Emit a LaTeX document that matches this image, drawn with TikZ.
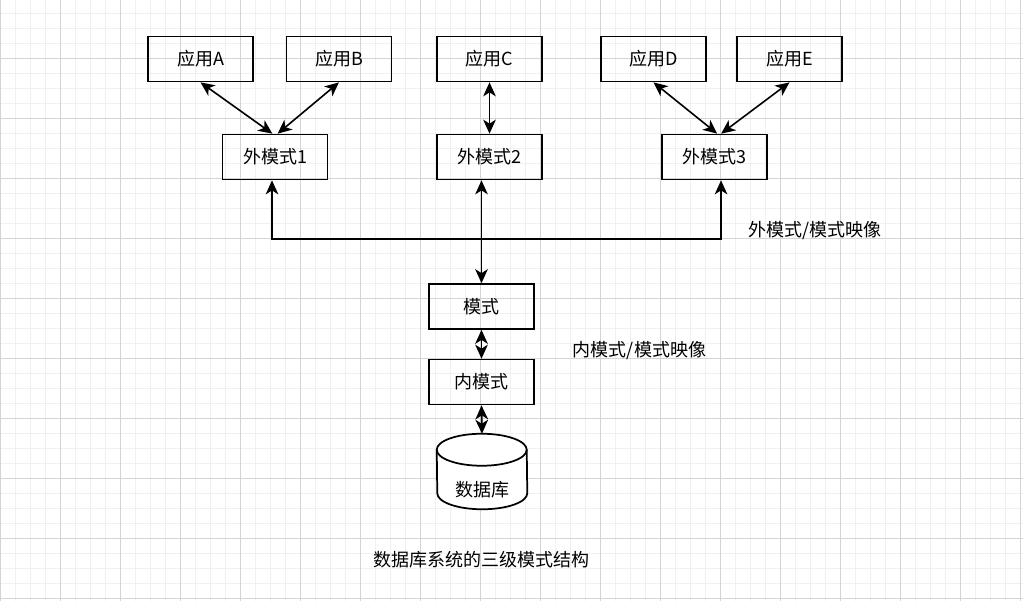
\documentclass[tikz,border=0pt]{standalone}
\usepackage{fontspec}
\setmainfont{Noto Sans CJK SC}
\usetikzlibrary{arrows.meta}
\definecolor{gridmajor}{RGB}{212,212,212}
\definecolor{gridminor}{RGB}{240,240,240}

\begin{document}
\begin{tikzpicture}[x=0.75pt,y=-0.75pt,font=\fontsize{13.5}{16}\selectfont,
  box/.style={draw,line width=1.3pt,minimum width=78.75pt,minimum height=33.75pt,inner sep=0pt},
  tip/.tip={Stealth[length=10.5pt,width=9.5pt,inset=3pt]},
  link/.style={line width=1.2pt,tip-tip},
  uplink/.style={line width=1.2pt,-tip}]
  \fill[white] (0,0) rectangle (1023,601);
  \useasboundingbox (0,0) rectangle (1023,601);
  \foreach \gx in {15,30,...,1020} \draw[gridminor,line width=0.75pt] (\gx,0) -- (\gx,601);
  \foreach \gy in {13,28,...,598} \draw[gridminor,line width=0.75pt] (0,\gy) -- (1023,\gy);
  \foreach \gx in {0,60,...,1020} \draw[gridmajor,line width=0.75pt] (\gx,0) -- (\gx,601);
  \foreach \gy in {58,118,...,598} \draw[gridmajor,line width=0.75pt] (0,\gy) -- (1023,\gy);

  \node[box] (appA) at (200.5,59) {应用A};
  \node[box] (appB) at (339,59) {应用B};
  \node[box] (appC) at (489.5,59) {应用C};
  \node[box] (appD) at (653.5,59) {应用D};
  \node[box] (appE) at (789.5,59) {应用E};
  \node[box] (w1) at (275,157) {外模式1};
  \node[box] (w2) at (489.5,157) {外模式2};
  \node[box] (w3) at (714.5,157) {外模式3};
  \node[box] (m) at (481.5,306.5) {模式};
  \node[box] (n) at (481.5,382) {内模式};
  \node[inner sep=0pt,minimum width=67.5pt,minimum height=56.25pt] (db) at (482,471.5) {};
  \draw[line width=1.3pt,fill=white] ([yshift=-12pt]db.north west)
    arc[start angle=180,end angle=0,x radius=33.75pt,y radius=12pt]
    -- ([yshift=12pt]db.south east)
    arc[start angle=0,end angle=-180,x radius=33.75pt,y radius=12pt] -- cycle;
  \draw[line width=1.3pt] ([yshift=-12pt]db.north west)
    arc[start angle=180,end angle=360,x radius=33.75pt,y radius=12pt];
  \node (dblabel) at (482,490) {数据库};

  \draw[link] (appA.south) -- ([xshift=-2pt]w1.north);
  \draw[link] (appB.south) -- ([xshift=2pt]w1.north);
  \draw[link] (appC.south) -- (w2.north);
  \draw[link] (appD.south) -- ([xshift=2pt]w3.north);
  \draw[link] (appE.south) -- ([xshift=5pt]w3.north);

  \coordinate (fork) at (481.5,239);
  \draw[link] (m.north) -- (m.north |- w2.south);
  \draw[uplink] (fork) -| ([xshift=-2.25pt]w1.south);
  \draw[uplink] (fork) -| ([xshift=4.9pt]w3.south);
  \draw[link] (m.south) -- (n.north);
  \draw[link] (n.south) -- (db.north);

  \node (mapup) at (815,231) {外模式/模式映像};
  \node (maplow) at (639.5,351) {内模式/模式映像};
  \node (title) at (481,560) {数据库系统的三级模式结构};
\end{tikzpicture}
\end{document}
